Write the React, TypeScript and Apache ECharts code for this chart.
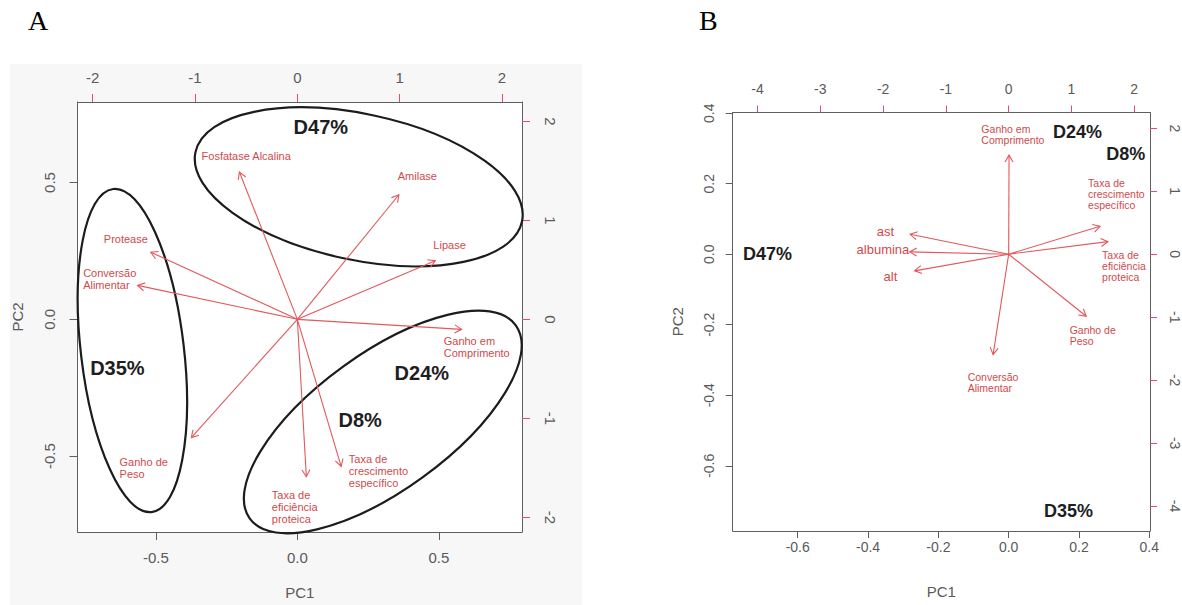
import React, { useEffect, useRef } from 'react';
import * as echarts from 'echarts';

const FONT = '"Liberation Sans", Arial, Helvetica, sans-serif';
const RED_LINE = '#e2585c';
const RED_TEXT = '#d04a4c';
const TICK_RED = '#e0506a';
const GREY = '#5a5a5a';

// ---------- Panel A ----------
const varsA = [
  'Fosfatase Alcalina',
  'Amilase',
  'Lipase',
  'Protease',
  'Conversão\nAlimentar',
  'Ganho de\nPeso',
  'Ganho em\nComprimento',
  'Taxa de\neficiência\nproteica',
  'Taxa de\ncrescimento\nespecífico',
];
const arrowAx = [-0.566, 0.992, 1.348, -1.432, -1.561, -1.036, 1.605, 0.088, 0.428];
const arrowAy = [1.488, 1.258, 0.592, 0.678, 0.343, -1.195, -0.101, -1.59, -1.485];
const labelAx = [-0.936, 0.981, 1.329, -1.891, -2.093, -1.737, 1.43, -0.25, 0.503];
const labelAy = [1.646, 1.449, 0.752, 0.814, 0.407, -1.503, -0.278, -1.895, -1.534];

const groupsA = ['D47%', 'D35%', 'D24%', 'D8%'];
const groupAx = [0.083, -0.636, 0.44, 0.222];
const groupAy = [0.703, -0.177, -0.195, -0.368];

const ellAcx = [0.217, -0.583, 0.302];
const ellAcy = [0.484, -0.114, -0.375];
const ellAa = [0.59, 0.575, 0.581];
const ellAb = [0.258, 0.182, 0.241];
const ellAtilt = [-12, -83.2, 36];

const ticksA_pc = [-0.5, 0, 0.5];
const ticksA_sec = [-2, -1, 0, 1, 2];

// ---------- Panel B ----------
const varsB = [
  'Ganho em\nComprimento',
  'Taxa de\ncrescimento\nespecífico',
  'Taxa de\neficiência\nproteica',
  'Ganho de\nPeso',
  'Conversão\nAlimentar',
  'ast',
  'albumina',
  'alt',
];
const arrowBx = [0.006, 1.456, 1.58, 1.235, -0.248, -1.57, -1.576, -1.498];
const arrowBy = [1.574, 0.443, 0.2, -0.985, -1.594, 0.316, 0.037, -0.264];
const labelBx = [-0.435, 1.264, 1.487, 0.971, -0.653, -1.963, -2.003, -1.884];
const labelBy = [1.908, 0.963, -0.19, -1.298, -2.035, 0.354, 0.07, -0.349];

const groupsB = ['D24%', 'D8%', 'D47%', 'D35%'];
const groupBx = [0.196, 0.333, -0.686, 0.17];
const groupBy = [0.347, 0.283, 0.0, -0.729];

const ticksB_pc = [-0.6, -0.4, -0.2, 0, 0.2, 0.4];
const ticksB_sec = [-4, -3, -2, -1, 0, 1, 2];

function axis(o: any) {
  return {
    type: 'value',
    gridIndex: o.grid,
    min: o.min,
    max: o.max,
    position: o.position,
    axisLine: { show: true, onZero: false, lineStyle: { color: '#5f5f5f', width: 1 } },
    axisTick: {
      show: true,
      inside: false,
      length: o.tickLen,
      customValues: o.ticks,
      lineStyle: { color: o.tickColor, width: 1 },
    },
    axisLabel: {
      show: true,
      customValues: o.ticks,
      formatter: (v: number) => (o.decimals ? v.toFixed(o.decimals) : String(Math.round(v))),
      color: GREY,
      fontSize: o.fontSize,
      fontFamily: FONT,
      margin: o.margin,
      rotate: o.rotate || 0,
    },
    splitLine: { show: false },
    name: o.name || '',
    nameLocation: 'middle',
    nameGap: o.nameGap || 0,
    nameTextStyle: { color: GREY, fontSize: 15, fontFamily: FONT },
  };
}

function arrowSeries(xi: number, yi: number, xs: number[], ys: number[]) {
  return {
    type: 'custom',
    xAxisIndex: xi,
    yAxisIndex: yi,
    silent: true,
    z: 3,
    data: xs.map((x, i) => [x, ys[i]]),
    renderItem: (_p: any, api: any) => {
      const o = api.coord([0, 0]);
      const t = api.coord([api.value(0), api.value(1)]);
      const ang = Math.atan2(t[1] - o[1], t[0] - o[0]);
      const L = 8;
      const A = Math.PI / 6;
      const p1 = [t[0] - L * Math.cos(ang - A), t[1] - L * Math.sin(ang - A)];
      const p2 = [t[0] - L * Math.cos(ang + A), t[1] - L * Math.sin(ang + A)];
      return {
        type: 'group',
        children: [
          { type: 'line', shape: { x1: o[0], y1: o[1], x2: t[0], y2: t[1] }, style: { stroke: RED_LINE, lineWidth: 1.1 } },
          { type: 'polyline', shape: { points: [p1, t, p2] }, style: { stroke: RED_LINE, fill: 'none', lineWidth: 1.1 } },
        ],
      };
    },
  };
}

function textSeries(xi: number, yi: number, xs: number[], ys: number[], texts: string[], st: (i: number) => any) {
  return {
    type: 'custom',
    xAxisIndex: xi,
    yAxisIndex: yi,
    silent: true,
    z: 4,
    data: xs.map((x, i) => [x, ys[i]]),
    renderItem: (p: any, api: any) => {
      const c = api.coord([api.value(0), api.value(1)]);
      return {
        type: 'text',
        x: c[0],
        y: c[1],
        style: Object.assign({ text: texts[p.dataIndex], fontFamily: FONT, verticalAlign: 'middle' }, st(p.dataIndex)),
      };
    },
  };
}

function ellipseSeries(xi: number, yi: number) {
  return {
    type: 'custom',
    xAxisIndex: xi,
    yAxisIndex: yi,
    silent: true,
    z: 2,
    data: ellAcx.map((x, i) => [x, ellAcy[i], ellAa[i], ellAb[i], ellAtilt[i]]),
    renderItem: (_p: any, api: any) => {
      const c = api.coord([api.value(0), api.value(1)]);
      const sx = api.size([1, 0])[0];
      return {
        type: 'ellipse',
        x: c[0],
        y: c[1],
        rotation: (api.value(4) * Math.PI) / 180,
        shape: { cx: 0, cy: 0, rx: api.value(2) * sx, ry: api.value(3) * sx },
        style: { fill: 'none', stroke: '#1c1c1c', lineWidth: 2.2 },
      };
    },
  };
}

function buildOption() {
  return {
    animation: false,
    backgroundColor: '#ffffff',
    graphic: [
      { type: 'rect', left: 10, top: 64, shape: { width: 572, height: 541 }, style: { fill: '#f7f7f7' }, z: -10 },
      { type: 'rect', left: 77.5, top: 102, shape: { width: 444.5, height: 431 }, style: { fill: '#ffffff' }, z: -9 },
      { type: 'text', left: 28, top: 6, style: { text: 'A', font: '28px "Liberation Serif", "Times New Roman", serif', fill: '#000' } },
      { type: 'text', left: 699, top: 6, style: { text: 'B', font: '28px "Liberation Serif", "Times New Roman", serif', fill: '#000' } },
    ],
    grid: [
      { left: 77.5, top: 102, width: 444.5, height: 431 },
      { left: 732.7, top: 112.5, width: 417.3, height: 418.5 },
    ],
    xAxis: [
      axis({ grid: 0, min: -0.777, max: 0.794, position: 'bottom', ticks: ticksA_pc, decimals: 1, tickColor: '#5f5f5f', fontSize: 15, margin: 18, tickLen: 8, name: 'PC1', nameGap: 53 }),
      axis({ grid: 0, min: -2.148, max: 2.195, position: 'top', ticks: ticksA_sec, decimals: 0, tickColor: TICK_RED, fontSize: 15, margin: 17, tickLen: 8 }),
      axis({ grid: 1, min: -0.785, max: 0.402, position: 'bottom', ticks: ticksB_pc, decimals: 1, tickColor: '#5f5f5f', fontSize: 14, margin: 9, tickLen: 7, name: 'PC1', nameGap: 53 }),
      axis({ grid: 1, min: -4.396, max: 2.251, position: 'top', ticks: ticksB_sec, decimals: 0, tickColor: TICK_RED, fontSize: 14, margin: 17, tickLen: 7 }),
    ],
    yAxis: [
      axis({ grid: 0, min: -0.777, max: 0.794, position: 'left', ticks: ticksA_pc, decimals: 1, tickColor: '#5f5f5f', fontSize: 15, margin: 21, tickLen: 8, rotate: 90, name: 'PC2', nameGap: 53 }),
      axis({ grid: 0, min: -2.148, max: 2.195, position: 'right', ticks: ticksA_sec, decimals: 0, tickColor: TICK_RED, fontSize: 15, margin: 21, tickLen: 8, rotate: -90 }),
      axis({ grid: 1, min: -0.785, max: 0.402, position: 'left', ticks: ticksB_pc, decimals: 1, tickColor: '#5f5f5f', fontSize: 14, margin: 17, tickLen: 7, rotate: 90, name: 'PC2', nameGap: 48 }),
      axis({ grid: 1, min: -4.396, max: 2.251, position: 'right', ticks: ticksB_sec, decimals: 0, tickColor: TICK_RED, fontSize: 14, margin: 18, tickLen: 7, rotate: -90 }),
    ],
    series: [
      ellipseSeries(0, 0),
      arrowSeries(1, 1, arrowAx, arrowAy),
      textSeries(1, 1, labelAx, labelAy, varsA, () => ({ fill: RED_TEXT, fontSize: 11, lineHeight: 12, align: 'left' })),
      textSeries(0, 0, groupAx, groupAy, groupsA, () => ({ fill: '#1e1e1e', fontSize: 20, fontWeight: 'bold', align: 'center' })),
      arrowSeries(3, 3, arrowBx, arrowBy),
      textSeries(3, 3, labelBx, labelBy, varsB, (i: number) =>
        i >= 5
          ? { fill: RED_TEXT, fontSize: 13, lineHeight: 14, align: 'center' }
          : { fill: RED_TEXT, fontSize: 10.5, lineHeight: 11, align: 'left' }
      ),
      textSeries(2, 2, groupBx, groupBy, groupsB, () => ({ fill: '#1e1e1e', fontSize: 18, fontWeight: 'bold', align: 'center' })),
    ],
  };
}

export default function App() {
  const ref = useRef<HTMLDivElement>(null);
  useEffect(() => {
    const chart = echarts.init(ref.current as HTMLDivElement, null, { renderer: 'svg' });
    chart.setOption(buildOption() as any);
    return () => chart.dispose();
  }, []);
  return <div ref={ref} style={{ position: 'fixed', left: 0, top: 0, width: 1182, height: 605 }} />;
}
